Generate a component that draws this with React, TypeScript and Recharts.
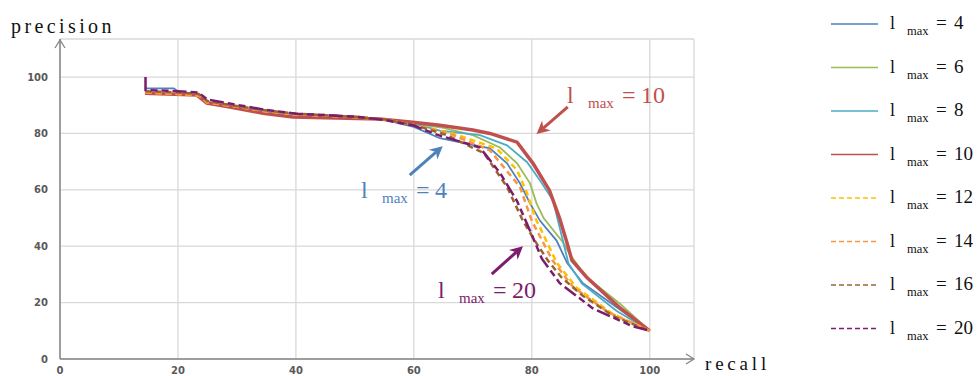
import React from 'react';
import { LineChart, Line, XAxis, YAxis, CartesianGrid, Legend, ReferenceLine } from 'recharts';

const xTicks = [0, 20, 40, 60, 80, 100];
const yTicks = [0, 20, 40, 60, 80, 100];

// l_max = 4
const l4Recall = [14.5, 19.3, 20.5, 23.5, 25, 29, 34.5, 40, 50, 55, 60, 64.4, 72.9, 75.8, 78, 79.7, 81.4, 84.2, 86, 88.6, 95, 100];
const l4Precision = [96, 96, 94.2, 93.5, 91, 89.8, 88, 87, 86, 84.8, 82.3, 78.3, 74.7, 69.4, 62.3, 55.2, 49, 42, 34, 27, 17.5, 10];
// l_max = 6
const l6Recall = [14.5, 20, 23.5, 25, 29, 34.5, 40, 50, 55, 60, 65, 70, 74.6, 77.5, 79.7, 80.8, 82, 85.3, 86.5, 89.3, 95, 100];
const l6Precision = [94.5, 94, 93.5, 91, 89.8, 88, 86.8, 85.8, 85, 83.5, 82, 79.4, 75, 69.4, 62.3, 55.2, 50, 41.3, 37, 29, 19.5, 10];
// l_max = 8
const l8Recall = [14.5, 20, 23.5, 25, 29, 34.5, 40, 50, 55, 60, 64.4, 71.2, 75.8, 79.2, 81.4, 83.6, 85.5, 86.2, 88.5, 94.4, 100];
const l8Precision = [94.5, 94, 93.5, 91, 89.8, 88, 86.8, 85.8, 85, 83.5, 81, 79.4, 75.8, 69.8, 63.3, 56.2, 40, 34, 26.7, 17, 10];
// l_max = 10
const l10Recall = [14.4, 23.2, 24.9, 28.8, 34.4, 39.5, 54.2, 59.8, 64.4, 70, 72.9, 77.5, 80.2, 83, 84.7, 86, 86.8, 89.3, 95, 100];
const l10Precision = [94.3, 93.6, 90.8, 89.4, 87.2, 85.8, 85.1, 84, 82.9, 81.2, 80, 76.9, 69.4, 59.8, 50, 41, 35, 29, 18, 10];
// l_max = 12
const l12Recall = [14.5, 20, 23.5, 25, 29, 34.5, 40, 50, 55, 60, 66.6, 74, 77.5, 79.2, 80.8, 81.4, 84.2, 87.6, 93.7, 100];
const l12Precision = [94.5, 94, 93.5, 91, 89.8, 88, 86.8, 85.8, 85, 83, 80, 74.7, 67, 58.7, 49, 46.6, 34.2, 25.3, 16, 10];
// l_max = 14
const l14Recall = [14.5, 20, 23.5, 25, 29, 34.5, 40, 50, 55, 60, 66, 72.9, 78, 80, 83.5, 87, 93, 100];
const l14Precision = [94.5, 94, 93.5, 91, 89.8, 88, 86.8, 85.8, 85, 83, 80, 74, 61, 49, 35, 25.5, 16.5, 10];
// l_max = 16
const l16Recall = [14.5, 20, 23.5, 25, 29, 34.5, 40, 50, 55, 60, 65.5, 71.9, 75.8, 78.5, 80.5, 82.7, 85, 88.6, 94, 100];
const l16Precision = [95, 94.5, 94, 91.5, 90, 88.3, 87, 85.9, 85, 83, 79.5, 73, 61, 49, 42, 35, 29, 22.5, 15, 10];
// l_max = 20
const l20Recall = [14.5, 14.5, 20, 23.5, 25, 29, 34.5, 40, 50, 55, 60, 64, 71.2, 74.6, 77.5, 79.7, 81.7, 84.7, 90.3, 97, 100];
const l20Precision = [100, 95.4, 95, 94.5, 92, 90.5, 88.5, 87, 86, 84.8, 82.8, 79.5, 75, 66, 56, 45.5, 35.6, 27, 18, 11.7, 10];

const zip = (r: number[], p: number[]) => r.map((v, i) => ({ r: v, p: p[i] }));

const series = [
  { name: '4', data: zip(l4Recall, l4Precision), color: '#4F81BD', width: 1.8, dash: undefined as string | undefined },
  { name: '6', data: zip(l6Recall, l6Precision), color: '#9BBB59', width: 1.8, dash: undefined },
  { name: '8', data: zip(l8Recall, l8Precision), color: '#4BACC6', width: 1.8, dash: undefined },
  { name: '10', data: zip(l10Recall, l10Precision), color: '#C0504D', width: 3.5, dash: undefined },
  { name: '12', data: zip(l12Recall, l12Precision), color: '#FFC000', width: 2.5, dash: '6 4' },
  { name: '14', data: zip(l14Recall, l14Precision), color: '#F79646', width: 2.5, dash: '6 4' },
  { name: '16', data: zip(l16Recall, l16Precision), color: '#98652F', width: 2.5, dash: '6 4' },
  { name: '20', data: zip(l20Recall, l20Precision), color: '#7B1C6C', width: 2.5, dash: '14 4 7 4 7 4' },
];

const serif = '"Liberation Serif", "Times New Roman", serif';

const arrowShape = (color: string) => (props: any) => {
  const { x1, y1, x2, y2 } = props;
  const a = Math.atan2(y2 - y1, x2 - x1);
  const c = Math.cos(a), s = Math.sin(a);
  const len = 13, half = 6.5, notch = 9;
  const bx = x2 - len * c, by = y2 - len * s;
  const pts = [
    `${x2},${y2}`,
    `${bx - half * s},${by + half * c}`,
    `${x2 - notch * c},${y2 - notch * s}`,
    `${bx + half * s},${by - half * c}`,
  ].join(' ');
  return (
    <g>
      <line x1={x1} y1={y1} x2={x2 - notch * c} y2={y2 - notch * s} stroke={color} strokeWidth={3} />
      <polygon points={pts} fill={color} />
    </g>
  );
};

const LegendBox = () => (
  <svg width={160} height={350}>
    {series.map((s, i) => {
      const cy = 24 + i * 43.5;
      return (
        <g key={s.name}>
          <line x1={11} x2={58} y1={cy} y2={cy} stroke={s.color} strokeWidth={1.6} strokeDasharray={s.dash ? '5 3' : undefined} />
          <text x={70} y={cy + 5} fontFamily={serif} fontSize={18} fill="#111">l</text>
          <text x={87} y={cy + 11} fontFamily={serif} fontSize={12.5} fill="#111">max</text>
          <text x={116} y={cy + 5} fontFamily={serif} fontSize={19} fill="#111">=</text>
          <text x={134} y={cy + 5} fontFamily={serif} fontSize={19} fill="#111">{s.name}</text>
        </g>
      );
    })}
  </svg>
);

const Note = ({ x, y, color, value }: { x: number; y: number; color: string; value: string }) => (
  <g fill={color} fontFamily={serif}>
    <text x={x} y={y} fontSize={24}>l</text>
    <text x={x + 21} y={y + 5} fontSize={15}>max</text>
    <text x={x + 55} y={y} fontSize={24}>=</text>
    <text x={x + 74} y={y} fontSize={24}>{value}</text>
  </g>
);

const tickStyle = { fontSize: 10, fontWeight: 'bold' as const, fill: '#595959', fontFamily: '"DejaVu Sans", sans-serif' };

export default function App() {
  return (
    <div style={{ position: 'absolute', left: 0, top: 0, width: 979, height: 376, background: '#fff' }}>
      <LineChart width={979} height={376} margin={{ top: 39, right: 285, bottom: 0, left: 0 }}>
        <CartesianGrid stroke="#D9D9D9" strokeWidth={1.3} />
        <XAxis
          type="number"
          dataKey="r"
          domain={[0, 107.5]}
          ticks={xTicks}
          height={17}
          tickLine={false}
          tickSize={0}
          tickMargin={8}
          tick={tickStyle}
          axisLine={{ stroke: '#868686', strokeWidth: 1.5 }}
        />
        <YAxis
          type="number"
          dataKey="p"
          domain={[0, 113.5]}
          ticks={yTicks}
          width={60}
          tickLine={false}
          tickSize={0}
          tickMargin={12}
          tick={tickStyle}
          axisLine={{ stroke: '#868686', strokeWidth: 1.5 }}
        />
        {series.map((s) => (
          <Line
            key={s.name}
            data={s.data}
            dataKey="p"
            name={s.name}
            type="linear"
            stroke={s.color}
            strokeWidth={s.width}
            strokeDasharray={s.dash}
            dot={false}
            activeDot={false}
            isAnimationActive={false}
          />
        ))}
        <ReferenceLine segment={[{ x: 86.1, y: 89.4 }, { x: 80.8, y: 79.8 }]} shape={arrowShape('#C0504D')} />
        <ReferenceLine segment={[{ x: 59.3, y: 65.2 }, { x: 64.9, y: 75.5 }]} shape={arrowShape('#4F81BD')} />
        <ReferenceLine segment={[{ x: 73.2, y: 30.1 }, { x: 78.5, y: 40 }]} shape={arrowShape('#7B1C6C')} />
        <Legend
          layout="vertical"
          align="center"
          verticalAlign="middle"
          content={() => <LegendBox />}
          wrapperStyle={{ left: 820, top: 0, width: 160, height: 350 }}
        />
      </LineChart>
      <svg width={979} height={376} style={{ position: 'absolute', left: 0, top: 0, pointerEvents: 'none' }}>
        <polyline points="55,48 60,40 65,48" fill="none" stroke="#868686" strokeWidth={1.3} />
        <polyline points="686,354 694,359 686,364" fill="none" stroke="#868686" strokeWidth={1.3} />
        <text x={11} y={33} fontFamily={serif} fontSize={20} letterSpacing={3.4} fill="#111">precision</text>
        <text x={705} y={370} fontFamily={serif} fontSize={19} letterSpacing={3.8} fill="#111">recall</text>
        <Note x={567} y={103} color="#C0504D" value="10" />
        <Note x={361} y={198} color="#4F81BD" value="4" />
        <Note x={438} y={298} color="#7B1C6C" value="20" />
      </svg>
    </div>
  );
}
